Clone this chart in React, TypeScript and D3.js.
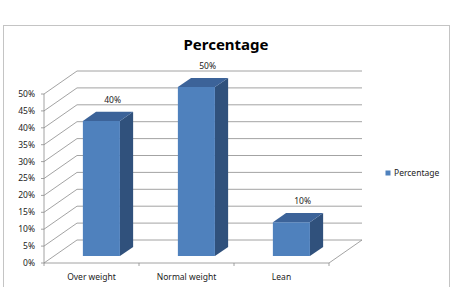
import React from "react";
import * as d3 from "d3";

const categories = ["Over weight", "Normal weight", "Lean"];
const values = [0.4, 0.5, 0.1];
const valueLabels = ["40%", "50%", "10%"];
const yTicks = [0, 0.05, 0.1, 0.15, 0.2, 0.25, 0.3, 0.35, 0.4, 0.45, 0.5];
const seriesName = "Percentage";

const W = 453;
const H = 287;
// depth of the 3d box (back wall offset)
const DX = 33;
const DY = -23;
// bars sit between these depth fractions
const D0 = 0.3;
const D1 = 0.7;

function App() {
  const x = d3.scaleBand().domain(categories).range([44, 329]).paddingInner(0.61).paddingOuter(0.305);
  const y = d3.scaleLinear().domain([0, 0.5]).range([263, 94]);
  const pct = d3.format(".0%");

  const p = (px: number, py: number, d: number) => [px + d * DX, py + d * DY];
  const pts = (arr: number[][]) => arr.map((a) => a.join(",")).join(" ");

  const [x0, x1] = x.range();
  const grid = "#8c8c8c";

  return (
    <svg
      width={W}
      height={H}
      style={{ position: "absolute", left: 0, top: 0, background: "#fff" }}
      fontFamily="'Noto Sans', 'Open Sans', sans-serif"
    >
      <rect x={3.5} y={25.5} width={446} height={270} fill="#fff" stroke="#c4c4c4" />
      <text x={226} y={50} textAnchor="middle" fontSize={15} fontWeight="bold" fill="#000">
        {seriesName}
      </text>

      {/* back wall gridlines and left wall diagonals */}
      {yTicks.map((t) => {
        const [bx, by] = p(x0, y(t), 1);
        const [ex, ey] = p(x1, y(t), 1);
        return (
          <g key={t}>
            <line x1={bx} y1={by} x2={ex} y2={ey} stroke={grid} strokeWidth={0.8} />
            <line x1={x0} y1={y(t)} x2={bx} y2={by} stroke={grid} strokeWidth={0.8} />
            <line x1={x0 - 3} y1={y(t)} x2={x0} y2={y(t)} stroke={grid} strokeWidth={0.8} />
            <text x={35} y={y(t)} dy="0.35em" textAnchor="end" fontSize={8.5} fill="#222">
              {pct(t)}
            </text>
          </g>
        );
      })}
      {/* floor */}
      <line x1={x0} y1={y(0)} x2={x1} y2={y(0)} stroke={grid} strokeWidth={0.8} />
      <line x1={x1} y1={y(0)} x2={p(x1, y(0), 1)[0]} y2={p(x1, y(0), 1)[1]} stroke={grid} strokeWidth={0.8} />
      <line x1={x0} y1={y(0)} x2={x0} y2={y(0.5)} stroke={grid} strokeWidth={0.8} />
      {[0, 1, 2, 3].map((i) => {
        const tx = x0 + i * x.step();
        return <line key={i} x1={tx} y1={y(0)} x2={tx} y2={y(0) + 3} stroke={grid} strokeWidth={0.8} />;
      })}
      {categories.map((c) => (
        <text key={c} x={(x(c) ?? 0) + x.bandwidth() / 2} y={280} textAnchor="middle" fontSize={8.5} fill="#222">
          {c}
        </text>
      ))}

      {/* bars */}
      {categories.map((c, i) => {
        const bl = x(c) ?? 0;
        const br = bl + x.bandwidth();
        const yt = y(values[i]);
        const yb = y(0);
        const f = [p(bl, yt, D0), p(br, yt, D0), p(br, yb, D0), p(bl, yb, D0)];
        const side = [p(br, yt, D0), p(br, yt, D1), p(br, yb, D1), p(br, yb, D0)];
        const top = [p(bl, yt, D0), p(bl, yt, D1), p(br, yt, D1), p(br, yt, D0)];
        const lab = p((bl + br) / 2, yt, D1);
        return (
          <g key={c}>
            <polygon points={pts(side)} fill="#30517c" />
            <polygon points={pts(top)} fill="#3c6399" />
            <polygon points={pts(f)} fill="#4f81bd" />
            <text x={lab[0] - 2} y={lab[1] - 9} textAnchor="middle" fontSize={8.5} fill="#222">
              {valueLabels[i]}
            </text>
          </g>
        );
      })}

      {/* legend */}
      <rect x={385.5} y={170.5} width={5} height={5} fill="#4f81bd" />
      <text x={394} y={173} dy="0.35em" fontSize={8.5} fill="#222">
        {seriesName}
      </text>
    </svg>
  );
}

export default App;
